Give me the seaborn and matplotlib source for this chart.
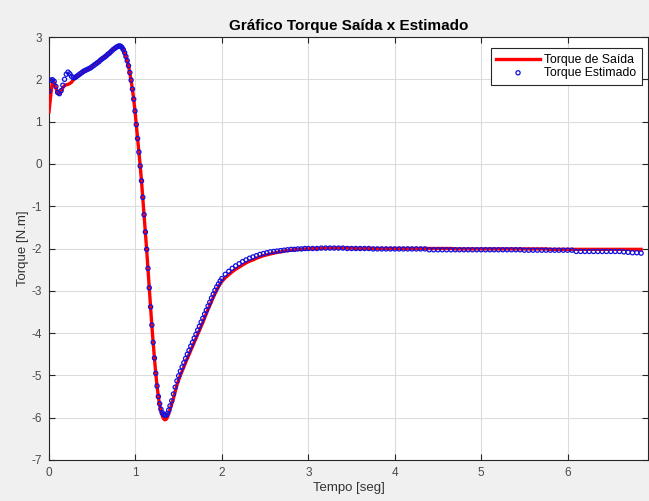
import numpy as np
import pandas as pd
import matplotlib
matplotlib.use("Agg")
import matplotlib.pyplot as plt
import seaborn as sns

# ---------------- data ----------------
t_rise = [0.00, 0.02, 0.04, 0.06, 0.08, 0.10, 0.12, 0.14, 0.16, 0.18, 0.20,
          0.22, 0.24, 0.26, 0.28, 0.30, 0.32, 0.34, 0.36, 0.38, 0.40,
          0.42, 0.44, 0.46, 0.48, 0.50, 0.52, 0.54, 0.56, 0.58, 0.60,
          0.62, 0.64, 0.66, 0.68, 0.70, 0.72, 0.74, 0.76, 0.78, 0.80]
out_rise = [1.23, 1.62, 1.96, 1.93, 1.80, 1.68, 1.65, 1.72, 1.80, 1.85, 1.87,
            1.88, 1.90, 1.93, 1.98, 2.02, 2.05, 2.08, 2.11, 2.14, 2.17,
            2.20, 2.23, 2.26, 2.29, 2.32, 2.35, 2.38, 2.41, 2.44, 2.47,
            2.50, 2.53, 2.56, 2.59, 2.62, 2.66, 2.69, 2.72, 2.75, 2.78]
est_rise = [1.72, 1.98, 1.99, 1.95, 1.83, 1.69, 1.66, 1.73, 1.86, 2.00, 2.12,
            2.17, 2.13, 2.07, 2.04, 2.04, 2.07, 2.10, 2.13, 2.16, 2.19,
            2.21, 2.23, 2.25, 2.27, 2.30, 2.33, 2.36, 2.39, 2.42, 2.46,
            2.49, 2.52, 2.55, 2.59, 2.62, 2.66, 2.70, 2.73, 2.76, 2.78]

t_drop = [0.815, 0.830, 0.845, 0.860, 0.875, 0.890, 0.905, 0.920, 0.935, 0.950,
          0.965, 0.980, 0.995, 1.010, 1.025, 1.040, 1.055, 1.070, 1.085, 1.100,
          1.115, 1.130, 1.145, 1.160, 1.175, 1.190, 1.205, 1.220, 1.235, 1.250,
          1.265, 1.280, 1.295, 1.310, 1.325, 1.340, 1.355, 1.370, 1.385, 1.400]
out_drop = [2.79, 2.79, 2.76, 2.70, 2.62, 2.53, 2.43, 2.31, 2.15, 1.97,
            1.76, 1.53, 1.25, 0.92, 0.59, 0.28, -0.04, -0.40, -0.80, -1.21,
            -1.62, -2.03, -2.48, -2.95, -3.40, -3.83, -4.22, -4.60, -4.95, -5.25,
            -5.50, -5.70, -5.85, -5.95, -6.02, -6.05, -6.04, -5.99, -5.91, -5.81]
est_drop = [2.79, 2.78, 2.75, 2.70, 2.63, 2.54, 2.44, 2.32, 2.16, 1.98,
            1.77, 1.53, 1.25, 0.93, 0.60, 0.28, -0.05, -0.40, -0.79, -1.20,
            -1.61, -2.02, -2.47, -2.93, -3.38, -3.81, -4.22, -4.59, -4.95, -5.25,
            -5.50, -5.67, -5.80, -5.88, -5.92, -5.94, -5.94, -5.90, -5.82, -5.72]

t_recover = [1.42, 1.44, 1.46, 1.48, 1.50, 1.52, 1.54, 1.56, 1.58, 1.60,
             1.62, 1.64, 1.66, 1.68, 1.70, 1.72, 1.74, 1.76, 1.78, 1.80,
             1.82, 1.84, 1.86, 1.88, 1.90, 1.92, 1.94, 1.96, 1.98, 2.00]
out_recover = [-5.68, -5.54, -5.38, -5.23, -5.11, -5.00, -4.90, -4.80, -4.70, -4.60,
               -4.51, -4.41, -4.32, -4.22, -4.13, -4.03, -3.94, -3.84, -3.75, -3.64,
               -3.54, -3.44, -3.35, -3.25, -3.16, -3.07, -2.99, -2.91, -2.84, -2.78]
est_recover = [-5.60, -5.44, -5.28, -5.13, -5.01, -4.90, -4.80, -4.70, -4.60, -4.50,
               -4.41, -4.31, -4.22, -4.12, -4.03, -3.93, -3.84, -3.74, -3.65, -3.55,
               -3.46, -3.36, -3.27, -3.17, -3.08, -2.99, -2.91, -2.84, -2.77, -2.71]

t_settle = [2.04, 2.08, 2.12, 2.16, 2.20, 2.24, 2.28, 2.32, 2.36, 2.40,
            2.44, 2.48, 2.52, 2.56, 2.60, 2.64, 2.68, 2.72, 2.76, 2.80,
            2.84, 2.88, 2.92, 2.96, 3.00]
out_settle = [-2.69, -2.62, -2.55, -2.49, -2.44, -2.39, -2.34, -2.30, -2.27, -2.23,
              -2.20, -2.17, -2.15, -2.13, -2.11, -2.09, -2.08, -2.06, -2.05, -2.04,
              -2.03, -2.02, -2.02, -2.01, -2.01]
est_settle = [-2.61, -2.54, -2.47, -2.41, -2.36, -2.31, -2.27, -2.23, -2.20, -2.17,
              -2.14, -2.12, -2.10, -2.08, -2.07, -2.06, -2.05, -2.04, -2.03, -2.02,
              -2.02, -2.01, -2.01, -2.00, -2.00]

t_tail = [3.05, 3.10, 3.15, 3.20, 3.25, 3.30, 3.35, 3.40, 3.45, 3.50,
          3.55, 3.60, 3.65, 3.70, 3.75, 3.80, 3.85, 3.90, 3.95, 4.00,
          4.05, 4.10, 4.15, 4.20, 4.25, 4.30, 4.35, 4.40, 4.45, 4.50,
          4.55, 4.60, 4.65, 4.70, 4.75, 4.80, 4.85, 4.90, 4.95, 5.00,
          5.05, 5.10, 5.15, 5.20, 5.25, 5.30, 5.35, 5.40, 5.45, 5.50,
          5.55, 5.60, 5.65, 5.70, 5.75, 5.80, 5.85, 5.90, 5.95, 6.00,
          6.05, 6.10, 6.15, 6.20, 6.25, 6.30, 6.35, 6.40, 6.45, 6.50,
          6.55, 6.60, 6.65, 6.70, 6.75, 6.80, 6.85]
out_tail = [-2.00, -2.00, -2.00, -1.99, -1.99, -1.99, -1.99, -1.99, -1.99, -1.99,
            -2.00, -2.00, -2.00, -2.00, -2.00, -2.00, -2.00, -2.00, -2.00, -2.00,
            -2.00, -2.00, -2.00, -2.00, -2.00, -2.00, -2.00, -2.00, -2.00, -2.00,
            -2.00, -2.00, -2.00, -2.01, -2.01, -2.01, -2.01, -2.01, -2.01, -2.01,
            -2.01, -2.01, -2.01, -2.01, -2.01, -2.01, -2.01, -2.01, -2.01, -2.01,
            -2.01, -2.01, -2.01, -2.01, -2.01, -2.02, -2.02, -2.02, -2.02, -2.02,
            -2.02, -2.02, -2.02, -2.02, -2.02, -2.02, -2.02, -2.02, -2.02, -2.02,
            -2.02, -2.02, -2.02, -2.02, -2.02, -2.02, -2.02]
est_tail = [-2.00, -2.00, -1.99, -1.99, -1.99, -1.99, -1.99, -1.99, -2.00, -2.00,
            -2.00, -2.00, -2.00, -2.00, -2.01, -2.01, -2.01, -2.01, -2.01, -2.01,
            -2.01, -2.01, -2.01, -2.01, -2.01, -2.01, -2.01, -2.03, -2.03, -2.03,
            -2.03, -2.03, -2.03, -2.03, -2.03, -2.03, -2.03, -2.03, -2.03, -2.03,
            -2.03, -2.03, -2.03, -2.03, -2.03, -2.03, -2.03, -2.03, -2.03, -2.04,
            -2.04, -2.04, -2.04, -2.04, -2.04, -2.04, -2.04, -2.04, -2.04, -2.04,
            -2.04, -2.07, -2.07, -2.07, -2.07, -2.07, -2.07, -2.07, -2.07, -2.07,
            -2.07, -2.07, -2.08, -2.09, -2.10, -2.10, -2.11]

title = "Gráfico Torque Saída x Estimado"
xlabel = "Tempo [seg]"
ylabel = "Torque [N.m]"
label_out = "Torque de Saída"
label_est = "Torque Estimado"
xticks = [0, 1, 2, 3, 4, 5, 6]
yticks = [3, 2, 1, 0, -1, -2, -3, -4, -5, -6, -7]

# ---------------- assemble ----------------
t_all = t_rise + t_drop + t_recover + t_settle + t_tail
df = pd.DataFrame({
    "t": t_all,
    "out": out_rise + out_drop + out_recover + out_settle + out_tail,
    "est": est_rise + est_drop + est_recover + est_settle + est_tail,
})

plt.rcParams["font.family"] = ["Liberation Sans", "DejaVu Sans"]
plt.rcParams["axes.unicode_minus"] = False
fig = plt.figure(figsize=(6.49, 5.01), dpi=100, facecolor="#f0f0f0")
ax = fig.add_axes([49 / 649, 1 - 460 / 501, 599 / 649, 423 / 501])
ax.set_facecolor("white")

sns.lineplot(data=df, x="t", y="out", ax=ax, color="#ff0000", linewidth=2.4,
             label=label_out, sort=False, zorder=3)
sns.scatterplot(data=df, x="t", y="est", ax=ax, marker="o", s=9,
                facecolors="none", edgecolor="#1010e0", linewidth=0.9,
                label=label_est, zorder=4)

ax.set_xlim(0, 6.93)
ax.set_ylim(-7, 3)
ax.set_xticks(xticks)
ax.set_yticks(yticks)
ax.grid(True, color="#dcdcdc", linewidth=0.8)
ax.set_axisbelow(True)
ax.tick_params(direction="in", top=True, right=True, length=4, width=0.8,
               colors="#262626", labelsize=8.5, labelcolor="#4a4a4a", pad=5)
for s in ax.spines.values():
    s.set_color("#262626")
    s.set_linewidth(0.8)

ax.set_title(title, fontsize=11, fontweight="bold", color="#000000", pad=5)
ax.set_xlabel(xlabel, fontsize=9.5, color="#333333", labelpad=2)
ax.set_ylabel(ylabel, fontsize=9.5, color="#333333", labelpad=2)

leg = ax.legend(loc="upper right", bbox_to_anchor=(0.996, 0.982), fontsize=8.8,
                frameon=True, fancybox=False, framealpha=1, edgecolor="#262626",
                borderpad=0.45, handlelength=3.6, handletextpad=0.35,
                labelspacing=0.1, borderaxespad=0.3)
leg.get_frame().set_linewidth(0.8)

fig.savefig("out.png", dpi=100, facecolor=fig.get_facecolor())
